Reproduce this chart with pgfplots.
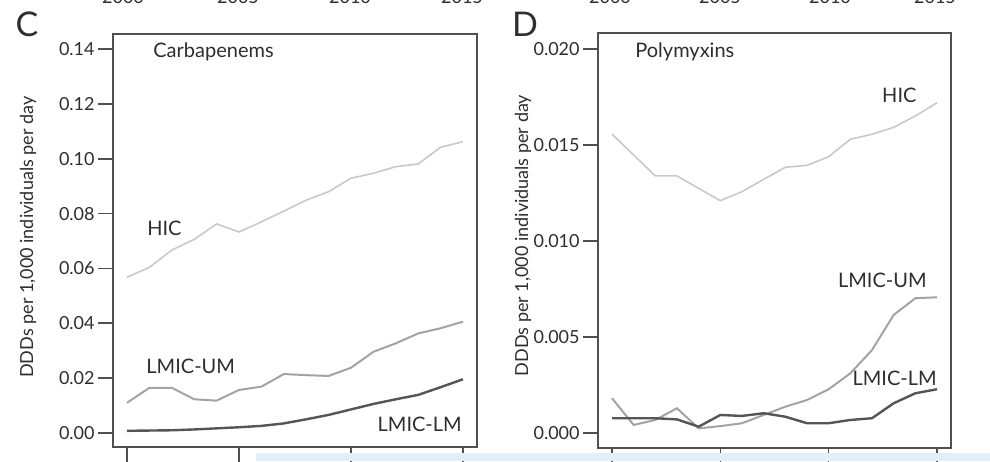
\documentclass[border=0pt]{standalone}
\usepackage{fontspec}
\setmainfont{Lato}
\usepackage{pgfplots}
\pgfplotsset{compat=1.18}

\definecolor{hic}{HTML}{C9C9C9}
\definecolor{um}{HTML}{A3A3A3}
\definecolor{lm}{HTML}{555555}
\definecolor{frame}{HTML}{505050}
\definecolor{txt}{HTML}{2E2E2E}
\definecolor{band}{HTML}{E1EFFB}

\tikzset{lab/.style={font=\fontsize{10}{10}\selectfont, text=txt, inner sep=0pt}}

\pgfplotsset{
  panel/.style={
    scale only axis,
    axis line style={frame, line width=0.8pt},
    tick align=outside, major tick length=7.5pt,
    tick style={frame, line width=0.8pt},
    xtick={2000,2005,2010,2015}, xticklabels={},
    xtick pos=bottom, ytick pos=left,
    scaled y ticks=false,
    yticklabel style={font=\fontsize{9}{9}\selectfont, text=txt, inner sep=1.5pt,
      /pgf/number format/assume math mode=true,
      /pgf/number format/fixed, /pgf/number format/fixed zerofill},
    ylabel={DDDs per 1,000 individuals per day},
    ylabel style={font=\fontsize{9}{9}\selectfont, text=txt, rotate=0, anchor=center},
    clip=false,
  },
}

\begin{document}
\begin{tikzpicture}
\useasboundingbox (0,0) rectangle (495pt,230.5pt);
\clip (0,0) rectangle (495pt,230.5pt);

% tick labels of the panels above, cut by the top edge
\foreach \xx/\yr in {61.5/2000,119/2005,175/2010,231/2015,305/2000,360/2005,415/2010,467.5/2015}
  \node[anchor=base, font=\fontsize{9}{9}\selectfont, text=txt, inner sep=0pt] at (\xx pt,228.5pt) {\yr};

\node[font=\fontsize{17}{17}\selectfont, text=txt, inner sep=0pt] at (13.5pt,218.5pt) {C};
\node[font=\fontsize{17}{17}\selectfont, text=txt, inner sep=0pt] at (262.5pt,218.5pt) {D};

% C: carbapenems
\begin{axis}[panel,
  at={(56.5pt,7pt)}, anchor=south west, width=182pt, height=206.5pt,
  xmin=1999.375, xmax=2015.625, ymin=-0.0051, ymax=0.14547,
  ytick={0,0.02,0.04,0.06,0.08,0.10,0.12,0.14},
  yticklabel style={/pgf/number format/precision=2},
  ylabel style={at={(axis description cs:-0.2335,0.508)}},
]
\addplot[hic, line width=0.8pt] coordinates {
  (2000,0.0568) (2001,0.0604) (2002,0.0667) (2003,0.0706) (2004,0.0762)
  (2005,0.0733) (2006,0.0770) (2007,0.0809) (2008,0.0849) (2009,0.0880)
  (2010,0.0929) (2011,0.0947) (2012,0.0971) (2013,0.0981) (2014,0.1042)
  (2015,0.1062)};
\addplot[um, line width=1pt] coordinates {
  (2000,0.0110) (2001,0.0165) (2002,0.0165) (2003,0.0123) (2004,0.0118)
  (2005,0.0157) (2006,0.0169) (2007,0.0215) (2008,0.0211) (2009,0.0208)
  (2010,0.0238) (2011,0.0296) (2012,0.0327) (2013,0.0363) (2014,0.0382)
  (2015,0.0406)};
\addplot[lm, line width=1.2pt] coordinates {
  (2000,0.0008) (2001,0.0009) (2002,0.0010) (2003,0.0013) (2004,0.0017)
  (2005,0.0021) (2006,0.0026) (2007,0.0035) (2008,0.0050) (2009,0.0066)
  (2010,0.0086) (2011,0.0106) (2012,0.0123) (2013,0.0139) (2014,0.0167)
  (2015,0.0196)};
\node[lab, anchor=west] at (axis cs:2001.16,0.1389) {Carbapenems};
\node[lab, anchor=west] at (axis cs:2000.89,0.0747) {HIC};
\node[lab, anchor=west] at (axis cs:2000.85,0.0244) {LMIC-UM};
\node[lab, anchor=east] at (axis cs:2014.96,0.0033) {LMIC-LM};
\end{axis}

% D: polymyxins
\begin{axis}[panel,
  at={(299pt,6.5pt)}, anchor=south west, width=176.5pt, height=207.5pt,
  xmin=1999.354, xmax=2015.646, ymin=-0.00078, ymax=0.020833,
  ytick={0,0.005,0.010,0.015,0.020},
  yticklabel style={/pgf/number format/precision=3},
  ylabel style={at={(axis description cs:-0.2125,0.512)}},
]
\addplot[hic, line width=0.8pt] coordinates {
  (2000,0.01556) (2001,0.01448) (2002,0.01339) (2003,0.01339) (2004,0.01274)
  (2005,0.01210) (2006,0.01257) (2007,0.01321) (2008,0.01384) (2009,0.01394)
  (2010,0.01439) (2011,0.01530) (2012,0.01556) (2013,0.01592) (2014,0.01651)
  (2015,0.01720)};
\addplot[um, line width=1pt] coordinates {
  (2000,0.00181) (2001,0.00042) (2002,0.00068) (2003,0.00129) (2004,0.00024)
  (2005,0.00036) (2006,0.00051) (2007,0.00094) (2008,0.00137) (2009,0.00172)
  (2010,0.00228) (2011,0.00311) (2012,0.00432) (2013,0.00615) (2014,0.00702)
  (2015,0.00707)};
\addplot[lm, line width=1.2pt] coordinates {
  (2000,0.00077) (2001,0.00077) (2002,0.00077) (2003,0.00071) (2004,0.00033)
  (2005,0.00094) (2006,0.00089) (2007,0.00103) (2008,0.00085) (2009,0.00051)
  (2010,0.00051) (2011,0.00068) (2012,0.00077) (2013,0.00155) (2014,0.00207)
  (2015,0.00228)};
\node[lab, anchor=west] at (axis cs:2001.06,0.01984) {Polymyxins};
\node[lab, anchor=east] at (axis cs:2014.07,0.01760) {HIC};
\node[lab, anchor=east] at (axis cs:2014.54,0.00797) {LMIC-UM};
\node[lab, anchor=east] at (axis cs:2015.0,0.00286) {LMIC-LM};
\end{axis}

% light band along the bottom edge
\fill[band] (128pt,0) rectangle (495pt,4pt);
\end{tikzpicture}
\end{document}
